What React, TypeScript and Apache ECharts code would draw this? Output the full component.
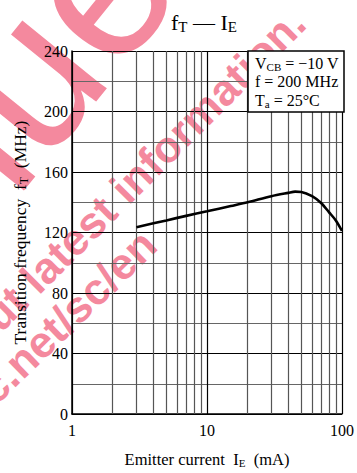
import React, { useEffect, useRef } from "react";
import * as echarts from "echarts";

const currentMA = [3, 5, 7, 10, 15, 20, 30, 40, 45, 50, 60, 70, 80, 90, 100];
const ftMHz = [123.5, 128, 131, 134, 137.5, 140, 144, 146.2, 147, 146.8, 144, 139.5, 133.5, 128, 121];
const minorX = [2, 3, 4, 5, 6, 7, 8, 9, 20, 30, 40, 50, 60, 70, 80, 90];
const legendLines = [
  "{n|V}{s|CB}{n| = \u221210 V}",
  "{n|f = 200 MHz}",
  "{n|T}{s|a}{n| = 25\u00B0C}",
];
const watermarkBig = "Discontinued";
const watermarkLine1 = "Please visit following URL about latest information.";
const watermarkLine2 = "http://panasonic.net/sc/en";

const SERIF = "Liberation Serif";
const SANS = "Liberation Sans";
const WM = "#f4899e";

export default function App() {
  const ref = useRef<HTMLDivElement>(null);
  useEffect(() => {
    if (!ref.current) return;
    const chart = echarts.init(ref.current, null, { renderer: "svg" });
    const rich = (size: number) => ({
      n: { fontFamily: SERIF, fontSize: size, color: "#000" },
      s: { fontFamily: SERIF, fontSize: Math.round(size * 0.68), color: "#000", padding: [Math.round(size * 0.45), 0, 0, 0] },
    });
    const deg = (d: number) => (d * Math.PI) / 180;
    chart.setOption({
      animation: false,
      backgroundColor: "#fff",
      textStyle: { fontFamily: SERIF },
      grid: { left: 72, right: 13, top: 51, bottom: 53 },
      xAxis: {
        type: "log",
        logBase: 10,
        min: 1,
        max: 100,
        axisLine: { show: true, onZero: false, lineStyle: { color: "#000", width: 1.5 } },
        axisTick: { show: false },
        axisLabel: { fontFamily: SERIF, fontSize: 16, color: "#000", margin: 8 },
        splitLine: { show: true, lineStyle: { color: "#000", width: 1.2 } },
        name: "{n|Emitter current  I}{s|E}{n|  (mA)}",
        nameLocation: "middle",
        nameGap: 36,
        nameTextStyle: { rich: rich(16.5) },
      },
      yAxis: {
        type: "value",
        min: 0,
        max: 240,
        interval: 20,
        axisLine: { show: true, lineStyle: { color: "#000", width: 1.5 } },
        axisTick: { show: false },
        axisLabel: {
          fontFamily: SERIF,
          fontSize: 16,
          color: "#000",
          margin: 4,
          formatter: (v: number) => (v % 40 === 0 ? String(v) : ""),
        },
        splitLine: { show: true, lineStyle: { color: ["#000", "#666"], width: 1.2 } },
        name: "{n|Transition frequency  f}{s|T}{n|  (MHz)}",
        nameLocation: "middle",
        nameRotate: 90,
        nameGap: 42,
        nameTextStyle: { rich: rich(17.5) },
      },
      series: [
        {
          type: "line",
          data: [],
          silent: true,
          z: 3,
          markLine: {
            silent: true,
            symbol: ["none", "none"],
            label: { show: false },
            lineStyle: { color: "#555", width: 1.2, type: "solid" },
            data: minorX.map((x) => ({ xAxis: x })),
          },
        },
        {
          type: "line",
          data: currentMA.map((x, i) => [x, ftMHz[i]]),
          smooth: 0.3,
          showSymbol: false,
          z: 5,
          lineStyle: { color: "#000", width: 2.6 },
        },
      ],
      graphic: [
        {
          type: "text",
          z: 0,
          x: 283,
          y: -80,
          rotation: deg(51),
          style: {
            text: watermarkBig,
            fontSize: 205,
            fontFamily: SANS,
            fill: WM,
            textAlign: "right",
            textVerticalAlign: "bottom",
          },
        },
        {
          type: "text",
          z: 0,
          x: 313,
          y: 31,
          rotation: deg(45),
          style: {
            text: watermarkLine1,
            fontSize: 44,
            fontWeight: "bold",
            fontFamily: SANS,
            fill: WM,
            textAlign: "right",
            textVerticalAlign: "bottom",
          },
        },
        {
          type: "text",
          z: 0,
          x: 164,
          y: 253,
          rotation: deg(44),
          style: {
            text: watermarkLine2,
            fontSize: 44,
            fontWeight: "bold",
            fontFamily: SANS,
            fill: WM,
            textAlign: "right",
            textVerticalAlign: "bottom",
          },
        },
        {
          type: "text",
          z: 100,
          x: 204,
          y: 22,
          style: {
            text: "{n|f}{s|T}{n| \u2014 I}{s|E}",
            rich: rich(22),
            textAlign: "center",
            textVerticalAlign: "middle",
          },
        },
        {
          type: "rect",
          z: 100,
          shape: { x: 248, y: 51, width: 96, height: 61 },
          style: { fill: "#fff", stroke: "#000", lineWidth: 1.5 },
        },
        ...legendLines.map((t, i) => ({
          type: "text",
          z: 101,
          x: 255,
          y: 63 + i * 18.5,
          style: { text: t, rich: rich(16), textAlign: "left", textVerticalAlign: "middle" },
        })),
      ],
    });
    return () => chart.dispose();
  }, []);
  return <div ref={ref} style={{ width: 357, height: 473, position: "absolute", left: 0, top: 0 }} />;
}
